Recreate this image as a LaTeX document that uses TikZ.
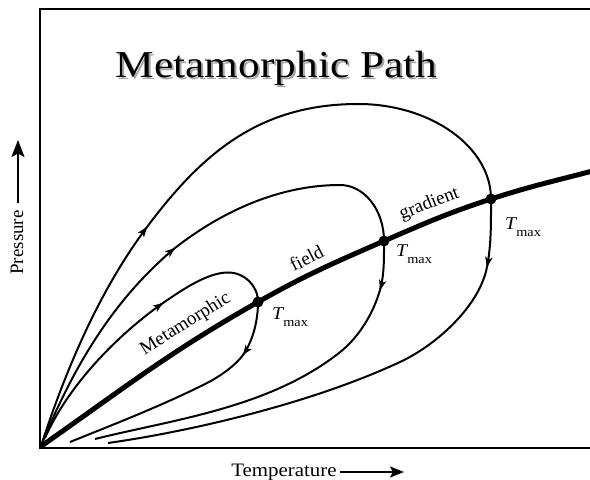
\documentclass[tikz,border=0pt]{standalone}
\usepackage{fontspec}
\setmainfont{Liberation Serif}
\usetikzlibrary{arrows.meta}
\newcommand\midtip[3]{\draw[tipmark] ([shift={(#3+180:1)}]#1,#2) -- (#1,#2);}
\newcommand\tmaxtext{\scalebox{1.1}[1]{\textit{T}\kern-1pt\raisebox{-7pt}{\fontsize{13}{13}\selectfont max}}}
\begin{document}
\begin{tikzpicture}[x=1pt,y=1pt,
  frameline/.style={line width=2.6pt, line cap=rect},
  pathline/.style={line width=2pt, line join=round},
  thickline/.style={line width=5pt},
  tipmark/.style={line width=1.5pt, -{Stealth[length=10pt,width=7.5pt,inset=2.5pt]}},
  axisarrow/.style={line width=2pt, -{Stealth[length=14pt,width=11pt,inset=3pt]}},
  parrow/.style={line width=2pt, -{Stealth[length=17pt,width=13pt,inset=3.5pt]}},
  axislabel/.style={inner sep=0pt, font=\fontsize{19}{22}\selectfont},
  curvelabel/.style={inner sep=0pt, font=\fontsize{19}{22}\selectfont},
  tmaxlabel/.style={inner sep=0pt, anchor=base west, font=\fontsize{18}{20}\selectfont},
  titletext/.style={inner sep=0pt, anchor=base, font=\fontsize{38}{42}\selectfont}
]
\useasboundingbox (0,0) rectangle (590,480);
\clip (0,0) rectangle (590,480);
\fill[white] (0,0) rectangle (590,480);

% frame
\coordinate (TL) at (40,471);
\coordinate (BL) at (40,32);
\coordinate (TR) at (595,471);
\coordinate (BR) at (595,32);
\draw[frameline] (TR) -- (TL) -- (BL) -- (BR);

% title with shadow
\node[titletext, text=black!35] (titleshadow) at (278.5,400.5) {\scalebox{1.14}[1]{Metamorphic Path}};
\node[titletext] (title) at (276.5,402.7) {\scalebox{1.14}[1]{Metamorphic Path}};

% key points
\coordinate (O) at (40,33);
\coordinate (D1) at (258,178);
\coordinate (D2) at (384,239);
\coordinate (D3) at (491,281);
\coordinate (E) at (600,311);

% outer loop
\coordinate (A3) at (147,253);
\coordinate (T3) at (358,376);
\coordinate (B3) at (487,213);
\coordinate (W3) at (400,118);
\coordinate (E3) at (108,37);
\draw[pathline] (41,34) .. controls (65.7,110) and (99,189) .. (A3)
  .. controls (201,325) and (258,376) .. (T3)
  .. controls (431,376) and (491,333) .. (D3)
  .. controls (491,258) and (491.4,235.6) .. (B3)
  .. controls (479.4,173.7) and (436.3,134.9) .. (W3)
  .. controls (309.4,75.7) and (187.2,48.1) .. (E3);

% middle loop
\coordinate (A2) at (175,232);
\coordinate (T2) at (340,295);
\coordinate (B2) at (380,190);
\coordinate (W2) at (339,127);
\coordinate (E2) at (95,41);
\draw[pathline] (41,34) .. controls (78.5,126.7) and (121.4,187) .. (A2)
  .. controls (222.3,269) and (280,295) .. (T2)
  .. controls (364.3,295) and (384,270) .. (D2)
  .. controls (384,222.7) and (384.4,205.4) .. (B2)
  .. controls (373.1,166) and (358.7,142.4) .. (W2)
  .. controls (268.1,71.6) and (172.6,60.4) .. (E2);

% inner loop
\coordinate (S1) at (45,42);
\coordinate (A1) at (163,177);
\coordinate (T1) at (228,207.5);
\coordinate (B1) at (243,125);
\coordinate (W1) at (207,97);
\coordinate (E1) at (70,38);
\draw[pathline] (S1) .. controls (71.4,101.4) and (126.1,151.2) .. (A1)
  .. controls (183.6,191.2) and (208,207.5) .. (T1)
  .. controls (244.6,207.5) and (258,194.3) .. (D1)
  .. controls (258,160) and (253.3,139.7) .. (B1)
  .. controls (236.1,115.2) and (220.4,103.8) .. (W1)
  .. controls (162.4,74.3) and (107.1,53) .. (E1);

% thick metamorphic field gradient
\draw[thickline] (O) to[out=35,in=209.5] (D1) to[out=29.5,in=203.5] (D2) to[out=23.5,in=198] (D3) to[out=18,in=195] (E);

% dots
\fill (D1) circle (5.5);
\fill (D2) circle (5.5);
\fill (D3) circle (5.5);

% arrow tips along paths
\midtip{147}{253}{53}
\midtip{175}{232}{39}
\midtip{163}{177}{35}
\midtip{487}{213}{259}
\midtip{380}{190}{254}
\midtip{243}{125}{235}

% labels along thick line
\node[curvelabel, anchor=base, rotate=32] (lmeta) at (188,152) {Metamorphic};
\node[curvelabel, anchor=base, rotate=27] (lfield) at (309.5,216) {field};
\node[curvelabel, anchor=base, rotate=21] (lgrad) at (431,271.5) {gradient};

% Tmax labels
\node[tmaxlabel] (t1) at (272,160) {\tmaxtext};
\node[tmaxlabel] (t2) at (396,223) {\tmaxtext};
\node[tmaxlabel] (t3) at (505,250) {\tmaxtext};

% axis labels
\node[axislabel, rotate=90, anchor=base] (plabel) at (23,237.5) {Pressure};
\coordinate (pstart) at (18,277);
\coordinate (ptip) at (18,340);
\draw[parrow] (pstart) -- (ptip);

\node[axislabel, anchor=base] (tlabel) at (284,3) {\scalebox{1.1}[1]{Temperature}};
\coordinate (tstart) at (340,8);
\coordinate (ttip) at (404,8);
\draw[axisarrow] (tstart) -- (ttip);
\end{tikzpicture}
\end{document}
